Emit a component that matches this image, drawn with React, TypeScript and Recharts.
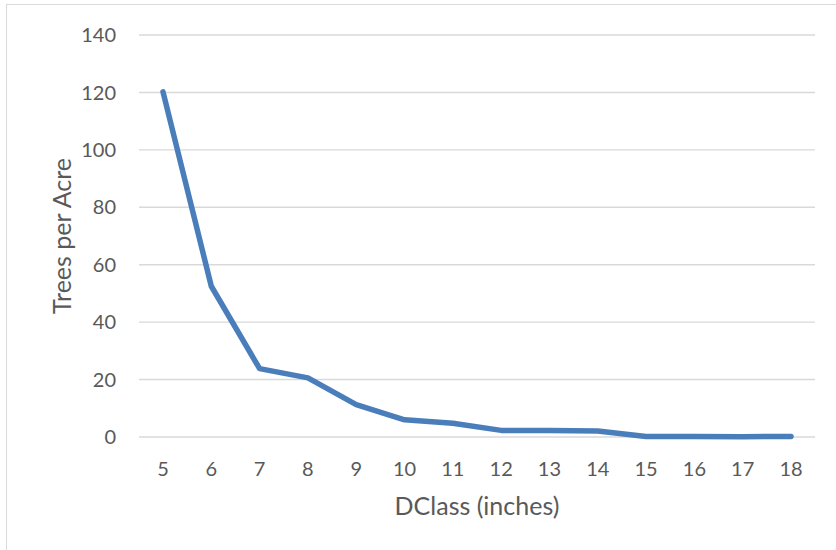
import { LineChart, Line, XAxis, YAxis, CartesianGrid } from "recharts";

const dClass = ["5", "6", "7", "8", "9", "10", "11", "12", "13", "14", "15", "16", "17", "18"];
const treesPerAcre = [120.2, 52.5, 23.8, 20.6, 11.3, 6.0, 4.8, 2.3, 2.3, 2.1, 0.2, 0.2, 0.1, 0.2];
const yTicks = [0, 20, 40, 60, 80, 100, 120, 140];

const WIDTH = 836;
const HEIGHT = 550;
const TEXT = "#595959";
const FONT = "Lato, 'Open Sans', sans-serif";

const data = dClass.map((d, i) => ({ dclass: d, tpa: treesPerAcre[i] }));

// axis titles drawn from the axis viewBox recharts hands to the label
function YTitle({ viewBox }: any) {
  const cx = viewBox.x + 61;
  const cy = viewBox.y + viewBox.height / 2;
  return (
    <text
      x={cx}
      y={cy}
      transform={`rotate(-90 ${cx} ${cy})`}
      textAnchor="middle"
      dominantBaseline="central"
      fill={TEXT}
      fontSize={25}
      fontFamily={FONT}
    >
      Trees per Acre
    </text>
  );
}

function XTitle({ viewBox }: any) {
  return (
    <text
      x={viewBox.x + viewBox.width / 2}
      y={viewBox.y + 78}
      textAnchor="middle"
      fill={TEXT}
      fontSize={25}
      fontFamily={FONT}
    >
      DClass (inches)
    </text>
  );
}

export default function App() {
  return (
    <div
      style={{
        position: "absolute",
        left: 0,
        top: 0,
        width: WIDTH,
        height: HEIGHT,
        overflow: "hidden",
        background: "#fff",
      }}
    >
      <div
        style={{
          position: "absolute",
          left: 6,
          top: 4,
          width: 900,
          height: 600,
          border: "1.5px solid #d9d9d9",
        }}
      />
      <LineChart
        width={WIDTH}
        height={HEIGHT}
        data={data}
        margin={{ top: 35, right: 21, bottom: 0, left: 0 }}
        style={{ position: "absolute", left: 0, top: 0 }}
      >
        <CartesianGrid vertical={false} stroke="#d9d9d9" strokeWidth={1.4} />
        <XAxis
          dataKey="dclass"
          height={113}
          padding={{ left: 24, right: 24 }}
          axisLine={false}
          tickLine={false}
          tickSize={0}
          tickMargin={25}
          interval={0}
          tick={{ fill: TEXT, fontSize: 20, fontFamily: FONT }}
          label={<XTitle />}
        />
        <YAxis
          width={139}
          domain={[0, 140]}
          ticks={yTicks}
          axisLine={false}
          tickLine={false}
          tickSize={0}
          tickMargin={23}
          tick={{ fill: TEXT, fontSize: 20, fontFamily: FONT }}
          label={<YTitle />}
        />
        <Line
          type="linear"
          dataKey="tpa"
          stroke="#4a7ebb"
          strokeWidth={5.5}
          strokeLinecap="round"
          strokeLinejoin="round"
          dot={false}
          activeDot={false}
          isAnimationActive={false}
        />
      </LineChart>
    </div>
  );
}
